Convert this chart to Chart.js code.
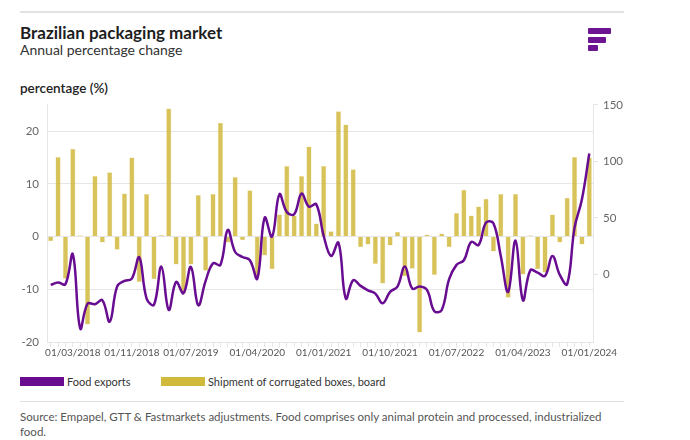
<!DOCTYPE html>
<html lang="en">
<head>
  <meta charset="UTF-8">
  <title>Brazilian packaging market</title>
  <script src="https://cdn.jsdelivr.net/npm/chart.js"></script>
  <style>
    body { margin: 0; width: 690px; height: 440px; background: #fff; font-family: Lato, "Open Sans", sans-serif; color: #222; position: relative; overflow: hidden; }
    .rule { position: absolute; left: 20px; width: 604px; height: 2px; background: #e2e2e2; }
    #title { position: absolute; left: 20px; top: 22px; font-size: 17px; font-weight: 700; color: #1e1e1e; }
    #subtitle { position: absolute; left: 20px; top: 41px; font-size: 14px; color: #333; }
    #ylabel { position: absolute; left: 20px; top: 80px; font-size: 13.5px; font-weight: 600; color: #222; }
    .logo div { position: absolute; left: 588px; height: 6px; background: #6c1491; border-radius: 1px; }
    #chart-box { position: absolute; left: 20px; top: 90px; width: 640px; height: 274px; }
    .legend { position: absolute; top: 375px; font-size: 11px; color: #333; display: flex; align-items: center; }
    .legend span.sw { display: inline-block; width: 44px; height: 9px; margin-right: 3px; }
    #source { position: absolute; left: 20px; top: 409px; width: 592px; font-size: 11.5px; line-height: 15px; color: #555; }
  </style>
</head>
<body>
  <div class="rule" style="top:11px"></div>
  <div id="title">Brazilian packaging market</div>
  <div id="subtitle">Annual percentage change</div>
  <div class="logo">
    <div style="top:28px;width:23px"></div>
    <div style="top:37px;width:18px"></div>
    <div style="top:45px;width:10px"></div>
  </div>
  <div id="ylabel">percentage (%)</div>

  <div id="chart-box"><canvas id="chart"></canvas></div>

  <div class="legend" style="left:20px"><span class="sw" style="background:#6a0c90"></span>Food exports</div>
  <div class="legend" style="left:161px"><span class="sw" style="background:#d1b93c"></span>Shipment of corrugated boxes, board</div>
  <div class="rule" style="top:401px;height:1px"></div>
  <div id="source">Source: Empapel, GTT &amp; Fastmarkets adjustments. Food comprises only animal protein and processed, industrialized food.</div>

  <script>
    // months 12/2017 .. 01/2024
    const months = [];
    for (let y = 2017, m = 12; y < 2024 || (y === 2024 && m <= 1); ) {
      months.push('01/' + String(m).padStart(2, '0') + '/' + y);
      m++;
      if (m > 12) { m = 1; y++; }
    }

    const tickLabels = ['01/03/2018', '01/11/2018', '01/07/2019', '01/04/2020', '01/01/2021',
      '01/10/2021', '01/07/2022', '01/04/2023', '01/01/2024'];

    // shipment of corrugated boxes, board (left axis, %)
    const boxes = [
      -0.9, 15.1, -8.0, 16.7, 0.25, -16.7, 11.5, -1.1, 12.2, -2.5,
      8.2, 15.0, -8.6, 8.1, -8.1, 0.3, 24.3, -5.3, -10.8, -5.3,
      7.9, -6.5, 8.1, 21.6, -1.1, 11.3, -0.7, 8.8, -7.5, -3.6,
      -6.2, 4.2, 13.4, 4.0, 11.5, 17.1, 2.5, 13.4, 1.0, 23.8,
      21.3, 12.8, -2.0, -1.5, -5.2, -8.9, -1.7, 0.9, -7.5, -6.1,
      -18.2, 0.4, -7.3, 0.6, -2.0, 4.5, 8.9, 4.0, 5.7, 7.2,
      -2.8, 8.1, -11.6, 8.1, -7.2, 0.25, -6.2, -6.8, 4.2, -1.1,
      7.4, 15.1, -1.5, 15.0
    ];

    // food exports (right axis, %), last value runs past the axis edge
    const foodExports = [
      -9.4, -7.4, -8.8, 17.7, -48, -26, -26.5, -23, -42, -10.9,
      -5.9, -3.8, 15, -21.5, -27, 6.8, -31.6, -6.8, -16.8, 6.5,
      -27.4, -5.9, 9.7, 8.3, 39.2, 19.7, 15.3, 12.4, -3.8, 50.1,
      33.3, 70.8, 55.2, 53.1, 71.4, 59.9, 61.9, 33.9, 16.2, 28,
      -21.5, -5.3, -10.3, -14.2, -17.1, -25.7, -15.6, -10.9, 6.8, -12.7,
      -10.9, -13.9, -32.7, -31.6, -4.4, 8.3, 12.4, 28.6, 26, 45.7,
      45.1, 16.2, -15.6, 29.8, -23, 3.5, 1.5, -1.5, 16.2, -0.6,
      -8.8, 41.3, 66.4, 107, 25
    ];

    const font = { family: 'Lato, "Open Sans", sans-serif', size: 11.5 };
    const xFont = { family: 'Lato, "Open Sans", sans-serif', size: 10 };
    const grid = '#e6e6e6';

    new Chart(document.getElementById('chart'), {
      data: {
        labels: months,
        datasets: [
          {
            type: 'line',
            label: 'Food exports',
            data: foodExports,
            yAxisID: 'y1',
            borderColor: '#680c91',
            borderWidth: 2.5,
            pointRadius: 0,
            tension: 0.4,
            clip: 1,
            order: 0
          },
          {
            type: 'bar',
            label: 'Shipment of corrugated boxes, board',
            data: boxes,
            yAxisID: 'y',
            backgroundColor: 'rgba(207,182,55,0.82)',
            borderColor: 'rgba(236,224,160,0.9)',
            borderWidth: 0.5,
            barPercentage: 0.7,
            categoryPercentage: 1,
            order: 1
          }
        ]
      },
      options: {
        responsive: true,
        maintainAspectRatio: false,
        animation: false,
        layout: { padding: { top: 2 } },
        plugins: { legend: { display: false }, tooltip: { enabled: false } },
        scales: {
          x: {
            offset: true,
            grid: { display: true, drawOnChartArea: false, drawTicks: true, tickLength: 5, color: grid, offset: false },
            border: { display: false },
            ticks: {
              autoSkip: false, maxRotation: 0, padding: 0, color: '#555', font: xFont,
              callback: (v, i) => tickLabels.includes(months[i]) ? months[i] : ''
            },
            afterFit: s => { s.height = 22; }
          },
          y: {
            position: 'left',
            min: -20,
            max: 25,
            ticks: { stepSize: 10, color: '#666', font: font, padding: 8 },
            afterBuildTicks: s => { s.ticks = s.ticks.filter(t => t.value % 10 === 0); },
            grid: { color: grid, drawTicks: false },
            border: { display: true, color: grid },
            afterFit: s => { s.width = 27; }
          },
          y1: {
            position: 'right',
            min: -60,
            max: 150,
            ticks: { stepSize: 50, color: '#666', font: font, padding: 5 },
            afterBuildTicks: s => { s.ticks = s.ticks.filter(t => t.value % 50 === 0); },
            grid: { drawOnChartArea: false, drawTicks: true, tickLength: 5, color: grid },
            border: { display: true, color: grid },
            afterFit: s => { s.width = 67; }
          }
        }
      }
    });
  </script>
</body>
</html>
